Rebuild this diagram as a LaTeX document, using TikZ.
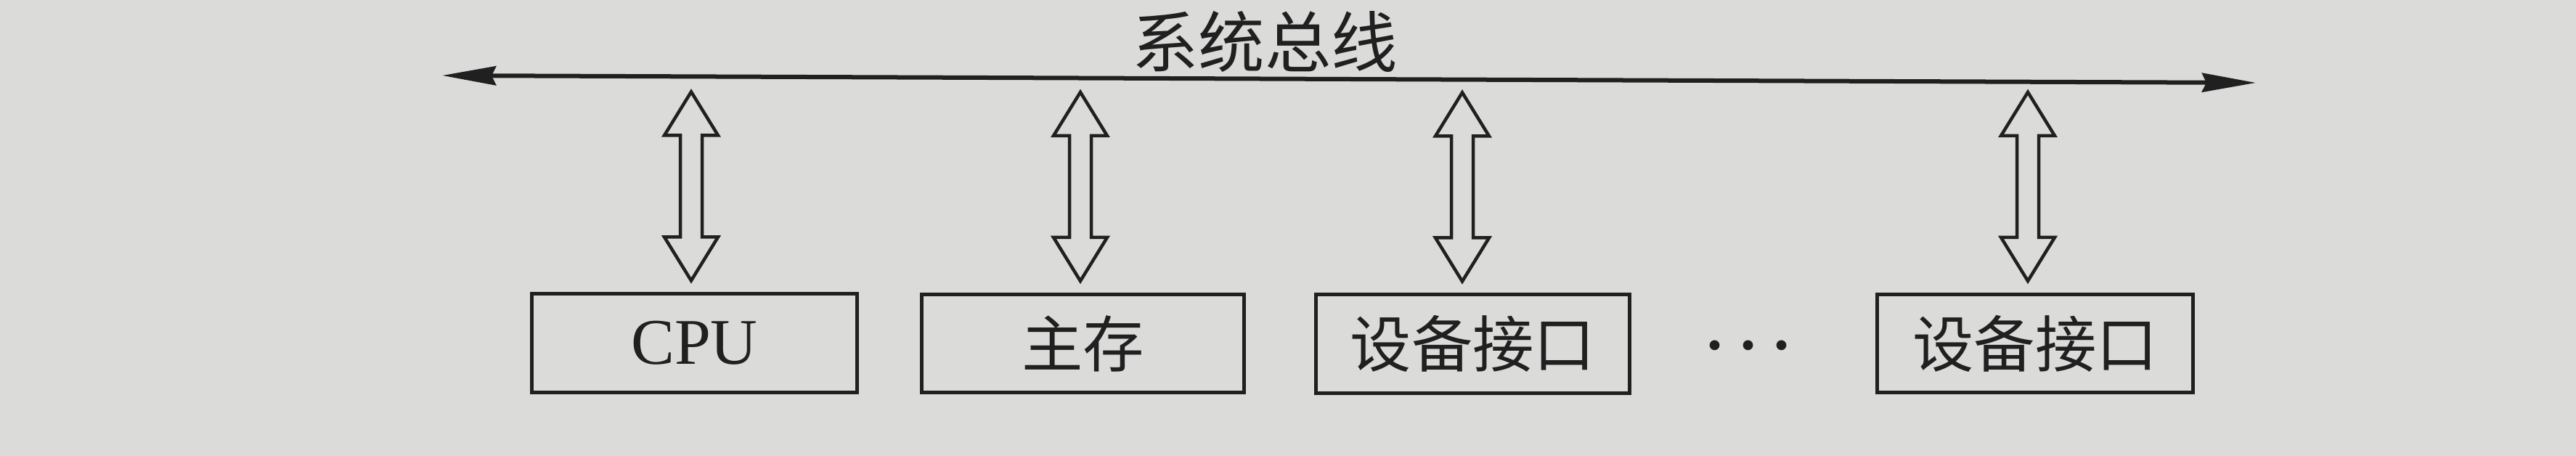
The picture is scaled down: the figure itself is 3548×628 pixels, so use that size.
\documentclass[tikz,border=0pt]{standalone}
\usepackage{fontspec}
\setmainfont{Liberation Serif}
\newfontfamily\cjk{Noto Sans CJK SC}
\usetikzlibrary{arrows.meta,calc}
\definecolor{paper}{RGB}{219,220,218}
\definecolor{ink}{RGB}{32,32,32}
\tikzset{
  unitbox/.style={draw=ink, line width=0.05cm, minimum height=1.35cm, inner sep=0pt, text=ink},
  lat/.style={font=\fontsize{25.5pt}{30pt}\selectfont},
  han/.style={font=\cjk\fontsize{24pt}{28pt}\selectfont},
  busline/.style={draw=ink, line width=0.06cm,
    {Stealth[length=0.74cm,width=0.26cm,inset=0.06cm]}-{Stealth[length=0.74cm,width=0.26cm,inset=0.06cm]}},
  dblarrow/.style={draw=ink, line width=0.045cm, line join=miter, fill=paper}
}
\newcommand\busconn[2]{%
  \draw[dblarrow] ($(#1.north)+(#2,-16)$) -- ++(-37,-60) -- ++(22,0) -- ++(0,-140)
    -- ++(-22,0) -- ++(37,-60) -- ++(37,60) -- ++(-22,0) -- ++(0,140) -- ++(22,0) -- cycle;}
\begin{document}
\begin{tikzpicture}[x=0.01cm, y=-0.01cm]
  \fill[paper] (0,0) rectangle (3548,628);
  \useasboundingbox (0,0) rectangle (3548,628);
  % bus
  \coordinate (busL) at (609,104);
  \coordinate (busR) at (3107,114);
  \draw[busline] (busL) -- (busR);
  \node[text=ink, font=\cjk\fontsize{26pt}{30pt}\selectfont] (title) at (1742,57) {系统总线};
  % units
  \node[unitbox, lat, minimum width=4.47cm] (cpu) at (956.5,472.5) {CPU};
  \node[unitbox, han, minimum width=4.43cm] (mem) at (1491.5,473) {主存};
  \node[unitbox, han, minimum width=4.31cm] (dev1) at (2028.5,473.5) {设备接口};
  \node[unitbox, han, minimum width=4.34cm] (dev2) at (2803,473) {设备接口};
  \node[text=ink, font=\bfseries\fontsize{24pt}{28pt}\selectfont] (dots) at (2408,476)
    {.\hspace{0.25cm}.\hspace{0.25cm}.};
  % bidirectional arrows
  \busconn{cpu}{-4.5}
  \busconn{mem}{-3.5}
  \busconn{dev1}{-14.5}
  \busconn{dev2}{-10}
\end{tikzpicture}
\end{document}
